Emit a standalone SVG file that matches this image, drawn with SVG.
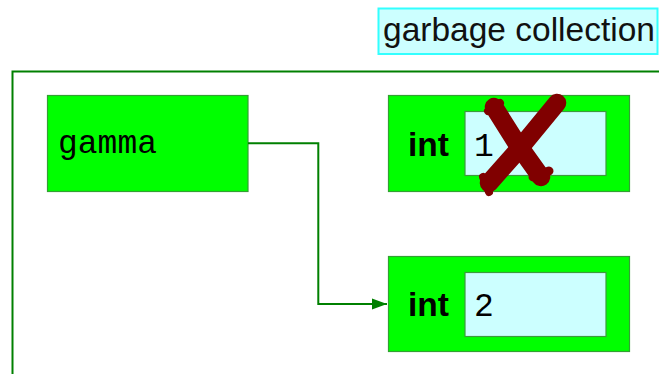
<svg xmlns="http://www.w3.org/2000/svg" width="659" height="374" viewBox="0 0 659 374">
  <style>
    .frame{fill:none;stroke:#008000;stroke-width:2}
    .box{fill:#00ff00;stroke:#33a033;stroke-width:1.2}
    .val{fill:#ccffff;stroke:#3d9a3d;stroke-width:1.2}
    .mono{font-family:"Liberation Mono","DejaVu Sans Mono",monospace;font-size:33px;fill:#000}
    .bold{font-family:"Liberation Sans",Arial,sans-serif;font-size:33.5px;font-weight:bold;fill:#000}
    .sans{font-family:"Liberation Sans",Arial,sans-serif;font-size:33.5px;fill:#111}
    .conn{fill:none;stroke:#008000;stroke-width:2}
    .cross{fill:none;stroke:#800000;stroke-width:18.5;stroke-linecap:round;stroke-linejoin:round}
  </style>
  <defs>
    <marker id="arr" markerUnits="userSpaceOnUse" markerWidth="16" markerHeight="12" refX="15" refY="6" orient="auto">
      <path d="M0,0.5 L15,6 L0,11.5 Z" fill="#008000"/>
    </marker>
  </defs>
  <rect width="659" height="374" fill="#ffffff"/>
  <g id="frame">
    <path class="frame" d="M12.5,380 V71.5 H665"/>
  </g>
  <g id="label-gc">
    <rect x="378.5" y="8.5" width="279" height="45.5" fill="#ccffff" stroke="#33ffff" stroke-width="2"/>
    <text class="sans" x="383" y="41">garbage collection</text>
  </g>
  <g id="node-gamma">
    <rect class="box" x="47.5" y="95.5" width="200.5" height="96"/>
    <text class="mono" x="58" y="153">gamma</text>
  </g>
  <g id="node-int1">
    <rect class="box" x="388.5" y="95.5" width="241" height="96"/>
    <text class="bold" x="408" y="156">int</text>
    <rect class="val" x="465" y="111.5" width="141" height="64"/>
    <text class="mono" x="474" y="156">1</text>
  </g>
  <g id="node-int2">
    <rect class="box" x="388.5" y="256.5" width="241" height="95"/>
    <text class="bold" x="408" y="316">int</text>
    <rect class="val" x="465" y="272.5" width="141" height="64"/>
    <text class="mono" x="474" y="316">2</text>
  </g>
  <g id="connectors">
    <path class="conn" d="M248,143.3 H318.3 V304 H387" marker-end="url(#arr)"/>
  </g>
  <g id="cross">
    <path class="cross" d="M494,107 L516,142 L541,177"/>
    <path class="cross" d="M557,103 L520,148 L489,183"/>
    <path class="cross" style="stroke-width:9" d="M533,177 L549,171"/>
    <path class="cross" style="stroke-width:8" d="M483,177 L489,192"/>
    <path class="cross" style="stroke-width:8" d="M488,111 L500,103"/>
  </g>
</svg>
